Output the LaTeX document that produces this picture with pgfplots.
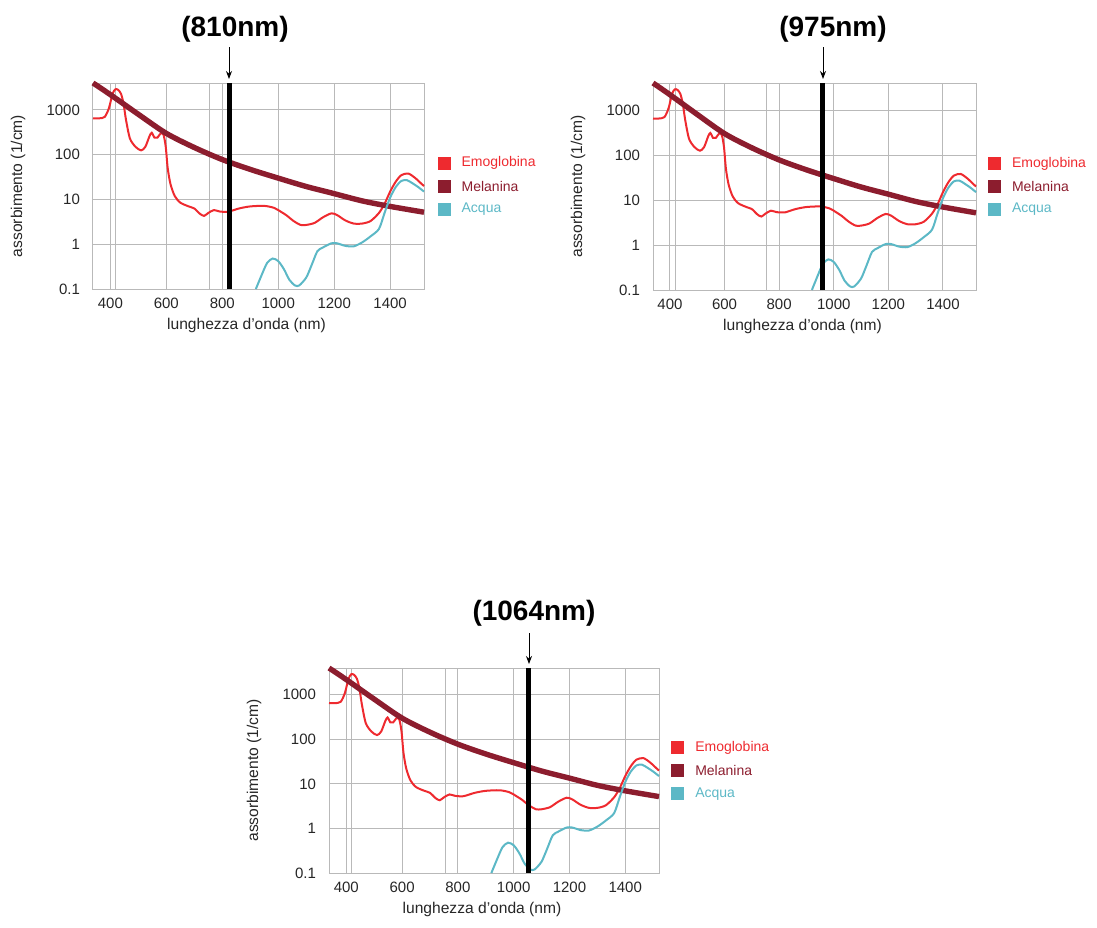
\documentclass[border=0pt]{standalone}
\usepackage{fontspec}
\setmainfont{Liberation Sans}
\usepackage{pgfplots}
\pgfplotsset{compat=1.18}
\usepackage{pgfplotstable}
\usetikzlibrary{arrows.meta}

\definecolor{hemo}{HTML}{EE2A2F}
\definecolor{mela}{HTML}{8C1D2E}
\definecolor{acqua}{HTML}{5CB8C6}

% assorbimento (1/cm) vs lunghezza d'onda (nm)
\pgfplotstableread{
nm val
338 650
360 650
380 700
395 1100
408 2300
418 2900
428 2800
438 2300
447 1400
456 600
470 230
490 150
510 125
525 150
540 260
548 310
558 240
568 240
580 300
590 280
598 150
605 50
615 22
630 12
650 8.5
680 7
700 6.3
720 4.8
735 4.3
750 5.0
770 5.8
790 5.4
820 5.3
860 6.3
900 7.0
950 7.2
985 6.5
1010 5.3
1030 4.4
1055 3.3
1080 2.7
1100 2.7
1130 3.0
1160 4.0
1190 4.9
1210 4.5
1240 3.4
1270 2.9
1300 2.9
1330 3.3
1360 5.0
1380 8
1400 15
1420 25
1440 35
1465 38
1490 30
1510 23
1521 20
}\emoglobina

\pgfplotstableread{
nm val
338 4000
400 2200
500 800
600 300
700 145
800 78
900 47
1000 30
1100 19.5
1200 13.5
1300 9.3
1400 7
1521 5.2
}\melanina

\pgfplotstableread{
nm val
920 0.1
940 0.2
960 0.38
980 0.48
1000 0.42
1020 0.28
1040 0.16
1060 0.12
1075 0.12
1100 0.18
1120 0.35
1140 0.7
1160 0.85
1190 1.05
1210 1.05
1240 0.92
1270 0.9
1300 1.1
1330 1.5
1360 2.2
1380 5
1400 11
1420 19
1440 26
1460 27
1480 23
1500 19
1521 15
}\acquatab

\pgfplotsset{
  every axis/.append style={
    scale only axis,
    xmin=338, xmax=1521, ymin=0.1, ymax=4000,
    xtick={400,600,800,1000,1200,1400},
    xticklabels={400,600,800,1000,1200,1400},
    ytick={0.1,1,10,100,1000},
    yticklabels={0.1,1,10,100,1000},
    major tick length=0pt, minor tick length=0pt,
    yminorticks=false,
    ymajorgrids,
    grid style={gray!55, line width=0.5pt},
    axis line style={gray!55, line width=0.5pt},
    tick label style={font=\fontsize{7.5}{8}\selectfont, text=black!85},
    yticklabel style={xshift=-3pt},
    xticklabel style={yshift=-1pt},
    every axis x label/.style={at={(axis description cs:0.5,0)}, anchor=center,
      yshift=-18pt, xshift=-6pt, font=\fontsize{7.8}{9}\selectfont, text=black!85},
    every axis y label/.style={at={(axis description cs:0,0.5)}, anchor=center,
      rotate=90, yshift=37.5pt, font=\fontsize{7.8}{9}\selectfont, text=black!85},
    legend cell align=left,
    clip=false,
  },
  every axis legend/.style={draw=none, fill=none, anchor=north west, inner sep=0pt,
    font=\fontsize{7}{8}\selectfont, row sep=5pt, column sep=5.5pt},
  legend image code/.code={\fill[#1,draw=none] (0pt,-3.25pt) rectangle (6.5pt,3.25pt);},
}

\newcommand{\disegnacurve}{%
  \addplot[hemo, line width=1pt, smooth, tension=0.45] table[x=nm,y=val]{\emoglobina};
  \addlegendentry{\textcolor{hemo}{Emoglobina}}
  \addplot[mela, line width=2.7pt, smooth] table[x=nm,y=val]{\melanina};
  \addlegendentry{\textcolor{mela}{Melanina}}
  \addplot[acqua, line width=1pt, smooth, tension=0.45] table[x=nm,y=val]{\acquatab};
  \addlegendentry{\textcolor{acqua}{Acqua}}
}

\begin{document}
\begin{tikzpicture}
\path[use as bounding box] (0,0) rectangle (548.5pt,-463.5pt);

\begin{semilogyaxis}[at={(46.5pt,-144.5pt)}, anchor=south west,
  width=165.5pt, height=103pt,
  xlabel={lunghezza d'onda (nm)}, ylabel={assorbimento (1/cm)},
  extra x ticks={420,755}, extra x tick labels={,},
  extra x tick style={grid=major},
  xmajorgrids,
  legend style={at={(1.04,0.645)}}]
  \disegnacurve
  \draw[black, line width=2.5pt] (axis cs:825,0.1) -- (axis cs:825,4000);
\end{semilogyaxis}

\begin{semilogyaxis}[at={(326.5pt,-145pt)}, anchor=south west,
  width=161.5pt, height=103.5pt,
  xlabel={lunghezza d'onda (nm)}, ylabel={assorbimento (1/cm)},
  extra x ticks={420,755}, extra x tick labels={,},
  extra x tick style={grid=major},
  xmajorgrids,
  legend style={at={(1.036,0.645)}}]
  \disegnacurve
  \draw[black, line width=2.5pt] (axis cs:960,0.1) -- (axis cs:960,4000);
\end{semilogyaxis}

\begin{semilogyaxis}[at={(164.5pt,-436.5pt)}, anchor=south west,
  width=165pt, height=102.5pt,
  xlabel={lunghezza d'onda (nm)}, ylabel={assorbimento (1/cm)},
  extra x ticks={420,755}, extra x tick labels={,},
  extra x tick style={grid=major},
  xmajorgrids,
  legend style={at={(1.036,0.645)}}]
  \disegnacurve
  \draw[black, line width=2.5pt] (axis cs:1053,0.1) -- (axis cs:1053,4000);
\end{semilogyaxis}

\begin{scope}[x=0.5pt, y=-0.5pt]
  \node[font=\bfseries\fontsize{14}{16}\selectfont] at (235,29) {(810nm)};
  \draw[-{Stealth[length=4pt,width=3pt]}, line width=0.5pt] (229,47) -- (229,79);
  \node[font=\bfseries\fontsize{14}{16}\selectfont] at (833,29) {(975nm)};
  \draw[-{Stealth[length=4pt,width=3pt]}, line width=0.5pt] (823,47) -- (823,79);
  \node[font=\bfseries\fontsize{14}{16}\selectfont] at (534,613) {(1064nm)};
  \draw[-{Stealth[length=4pt,width=3pt]}, line width=0.5pt] (529,633) -- (529,664);
\end{scope}
\end{tikzpicture}
\end{document}
